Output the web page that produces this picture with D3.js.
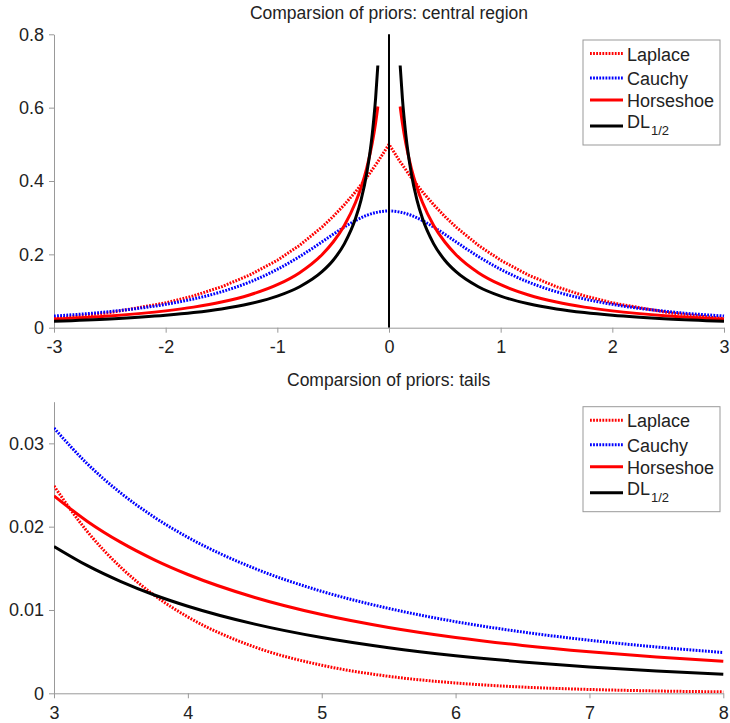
<!DOCTYPE html>
<html>
<head>
<meta charset="utf-8">
<script src="https://cdn.jsdelivr.net/npm/d3@7"></script>
<style>
  body { margin: 0; background: #fff; }
  svg { display: block; font-family: "Liberation Sans", Arial, Helvetica, sans-serif; }
  .axis path, .axis line { stroke: #999; }
  .axis text { fill: #222; font-size: 18px; }
</style>
</head>
<body>
<svg id="chart" width="730" height="723"></svg>
<script>
// ---------- data: central region ----------
const seriesNames = ["Laplace", "Cauchy", "Horseshoe", "DL"];
const topXTicks = [-3, -2, -1, 0, 1, 2, 3];
const topYTicks = [0, 0.2, 0.4, 0.6, 0.8];
const tailXTicks = [3, 4, 5, 6, 7, 8];
const tailYTicks = [0, 0.01, 0.02, 0.03];

const topX = [-3, -2.5, -2, -1.75, -1.5, -1.25, -1, -0.8, -0.6, -0.5, -0.4, -0.3, -0.2, -0.1, 0,
              0.1, 0.2, 0.3, 0.4, 0.5, 0.6, 0.8, 1, 1.25, 1.5, 1.75, 2, 2.5, 3];
const laplaceTop = [0.0249, 0.0410, 0.0677, 0.0869, 0.1116, 0.1433, 0.1839, 0.2247, 0.2744, 0.3033, 0.3352, 0.3704, 0.4094, 0.4524, 0.5,
                    0.4524, 0.4094, 0.3704, 0.3352, 0.3033, 0.2744, 0.2247, 0.1839, 0.1433, 0.1116, 0.0869, 0.0677, 0.0410, 0.0249];
const cauchyTop = [0.0318, 0.0439, 0.0637, 0.0784, 0.0979, 0.1242, 0.1592, 0.1941, 0.2341, 0.2546, 0.2744, 0.2920, 0.3061, 0.3152, 0.3183,
                   0.3152, 0.3061, 0.2920, 0.2744, 0.2546, 0.2341, 0.1941, 0.1592, 0.1242, 0.0979, 0.0784, 0.0637, 0.0439, 0.0318];

const leftX  = [-3, -2.5, -2, -1.75, -1.5, -1.25, -1, -0.8, -0.6, -0.5, -0.4, -0.3, -0.25, -0.2, -0.15, -0.12, -0.1];
const rightX = [0.1, 0.12, 0.15, 0.2, 0.25, 0.3, 0.4, 0.5, 0.6, 0.8, 1, 1.25, 1.5, 1.75, 2, 2.5, 3];
const horseshoeLeft  = [0.0237, 0.0322, 0.0459, 0.0561, 0.0699, 0.0892, 0.1172, 0.1501, 0.1991, 0.2336, 0.2788, 0.3412, 0.3825, 0.4346, 0.5036, 0.5581, 0.6032];
const horseshoeRight = [0.6032, 0.5581, 0.5036, 0.4346, 0.3825, 0.3412, 0.2788, 0.2336, 0.1991, 0.1501, 0.1172, 0.0892, 0.0699, 0.0561, 0.0459, 0.0322, 0.0237];
const dlLeft  = [0.0176, 0.0239, 0.0338, 0.0412, 0.0511, 0.0651, 0.0860, 0.1116, 0.1526, 0.1839, 0.2286, 0.2975, 0.3487, 0.4200, 0.5279, 0.6253, 0.7149];
const dlRight = [0.7149, 0.6253, 0.5279, 0.4200, 0.3487, 0.2975, 0.2286, 0.1839, 0.1526, 0.1116, 0.0860, 0.0651, 0.0511, 0.0412, 0.0338, 0.0239, 0.0176];

// ---------- data: tails ----------
const tailX = [3, 3.25, 3.5, 3.75, 4, 4.5, 5, 5.5, 6, 6.5, 7, 7.5, 8];
const laplaceTail   = [0.02489, 0.01939, 0.01510, 0.01176, 0.00916, 0.00555, 0.00337, 0.00204, 0.00124, 0.00075, 0.00046, 0.00028, 0.00017];
const cauchyTail    = [0.03183, 0.02753, 0.02402, 0.02113, 0.01872, 0.01498, 0.01224, 0.01019, 0.00860, 0.00736, 0.00637, 0.00556, 0.00490];
const horseshoeTail = [0.02370, 0.02063, 0.01811, 0.01602, 0.01426, 0.01150, 0.00945, 0.00790, 0.00670, 0.00575, 0.00499, 0.00437, 0.00385];
const dlTail        = [0.01763, 0.01532, 0.01341, 0.01180, 0.01045, 0.00830, 0.00669, 0.00547, 0.00452, 0.00377, 0.00317, 0.00269, 0.00229];

// ---------- layout ----------
const svg = d3.select("#chart");
const styles = {
  Laplace:   {stroke: "#ff0000", dash: "1.8,1.3", width: 3},
  Cauchy:    {stroke: "#0000ff", dash: "1.8,1.3", width: 3},
  Horseshoe: {stroke: "#ff0000", dash: null, width: 3},
  DL:        {stroke: "#000000", dash: null, width: 3}
};

function zip(xs, ys) { return xs.map((x, i) => [x, ys[i]]); }

function drawPanel(cfg) {
  const g = svg.append("g");
  const x = d3.scaleLinear().domain(cfg.xDomain).range([cfg.left, cfg.right]);
  const y = d3.scaleLinear().domain(cfg.yDomain).range([cfg.bottom, cfg.top]);

  g.append("g").attr("class", "axis")
    .attr("transform", `translate(0,${cfg.bottom})`)
    .call(d3.axisBottom(x).tickValues(cfg.xTicks).tickFormat(d => String(d)).tickSize(5).tickSizeOuter(0).tickPadding(5))
    .call(a => a.selectAll("text").attr("dy", "0.85em"));
  g.append("g").attr("class", "axis")
    .attr("transform", `translate(${cfg.left},0)`)
    .call(d3.axisLeft(y).tickValues(cfg.yTicks).tickFormat(d => d === 0 ? "0" : d3.format(cfg.yFmt)(d)).tickSize(5).tickSizeOuter(0).tickPadding(5));

  const clipId = "clip" + cfg.id;
  g.append("clipPath").attr("id", clipId).append("rect")
    .attr("x", cfg.left).attr("y", cfg.top - 2).attr("width", cfg.right - cfg.left + 2).attr("height", cfg.bottom - cfg.top + 2);

  const plot = g.append("g").attr("clip-path", `url(#${clipId})`);
  cfg.series.forEach(s => {
    const st = styles[s.name];
    const line = d3.line().x(d => x(d[0])).y(d => y(d[1])).curve(s.curve || d3.curveMonotoneX);
    plot.append("path").datum(s.data)
      .attr("d", line)
      .attr("fill", "none")
      .attr("stroke", st.stroke)
      .attr("stroke-width", st.width)
      .attr("stroke-dasharray", st.dash)
      .attr("stroke-linejoin", "round");
  });
  if (cfg.vline !== undefined) {
    plot.append("line")
      .attr("x1", x(cfg.vline)).attr("x2", x(cfg.vline))
      .attr("y1", y(cfg.yDomain[0])).attr("y2", y(cfg.yDomain[1]))
      .attr("stroke", "#000").attr("stroke-width", 2);
  }

  // title
  g.append("text").attr("x", (cfg.left + cfg.right) / 2).attr("y", cfg.titleY)
    .attr("text-anchor", "middle").attr("font-size", 17.5).attr("fill", "#222")
    .text(cfg.title);

  // legend
  const lg = g.append("g").attr("transform", `translate(583,${cfg.legendTop})`);
  lg.append("rect").attr("x", 0).attr("y", 0).attr("width", 137).attr("height", 105)
    .attr("fill", "#fff").attr("stroke", "#999").attr("stroke-width", 1);
  const rows = [
    {name: "Laplace", ly: 13.5, ty: 14.5},
    {name: "Cauchy", ly: 38, ty: 39},
    {name: "Horseshoe", ly: 60, ty: 61},
    {name: "DL", ly: 86, ty: 82}
  ];
  rows.forEach(r => {
    const st = styles[r.name];
    lg.append("line").attr("x1", 7).attr("x2", 40).attr("y1", r.ly).attr("y2", r.ly)
      .attr("stroke", st.stroke).attr("stroke-width", st.width).attr("stroke-dasharray", st.dash);
    const t = lg.append("text").attr("x", 44).attr("y", r.ty).attr("dy", "0.35em")
      .attr("font-size", 18).attr("fill", "#222");
    if (r.name === "DL") {
      t.append("tspan").text("DL");
      t.append("tspan").attr("font-size", 13).attr("dy", "0.55em").attr("dx", "1").text("1/2");
    } else {
      t.text(r.name);
    }
  });
}

drawPanel({
  id: "top", left: 54, right: 724, top: 34.3, bottom: 327.7,
  xDomain: [-3, 3], yDomain: [0, 0.8], xTicks: topXTicks, yTicks: topYTicks, yFmt: ".1f",
  title: "Comparsion of priors: central region", titleY: 19, legendTop: 40, vline: 0,
  series: [
    {name: "Laplace", data: zip(topX, laplaceTop), curve: d3.curveLinear},
    {name: "Cauchy", data: zip(topX, cauchyTop)},
    {name: "Horseshoe", data: zip(leftX, horseshoeLeft)},
    {name: "Horseshoe", data: zip(rightX, horseshoeRight)},
    {name: "DL", data: zip(leftX, dlLeft)},
    {name: "DL", data: zip(rightX, dlRight)}
  ]
});

drawPanel({
  id: "tail", left: 54, right: 723.3, top: 401.7, bottom: 693.3,
  xDomain: [3, 8], yDomain: [0, 0.035], xTicks: tailXTicks, yTicks: tailYTicks, yFmt: ".2f",
  title: "Comparsion of priors: tails", titleY: 386, legendTop: 406.7,
  series: [
    {name: "Laplace", data: zip(tailX, laplaceTail)},
    {name: "Cauchy", data: zip(tailX, cauchyTail)},
    {name: "Horseshoe", data: zip(tailX, horseshoeTail)},
    {name: "DL", data: zip(tailX, dlTail)}
  ]
});
</script>
</body>
</html>
